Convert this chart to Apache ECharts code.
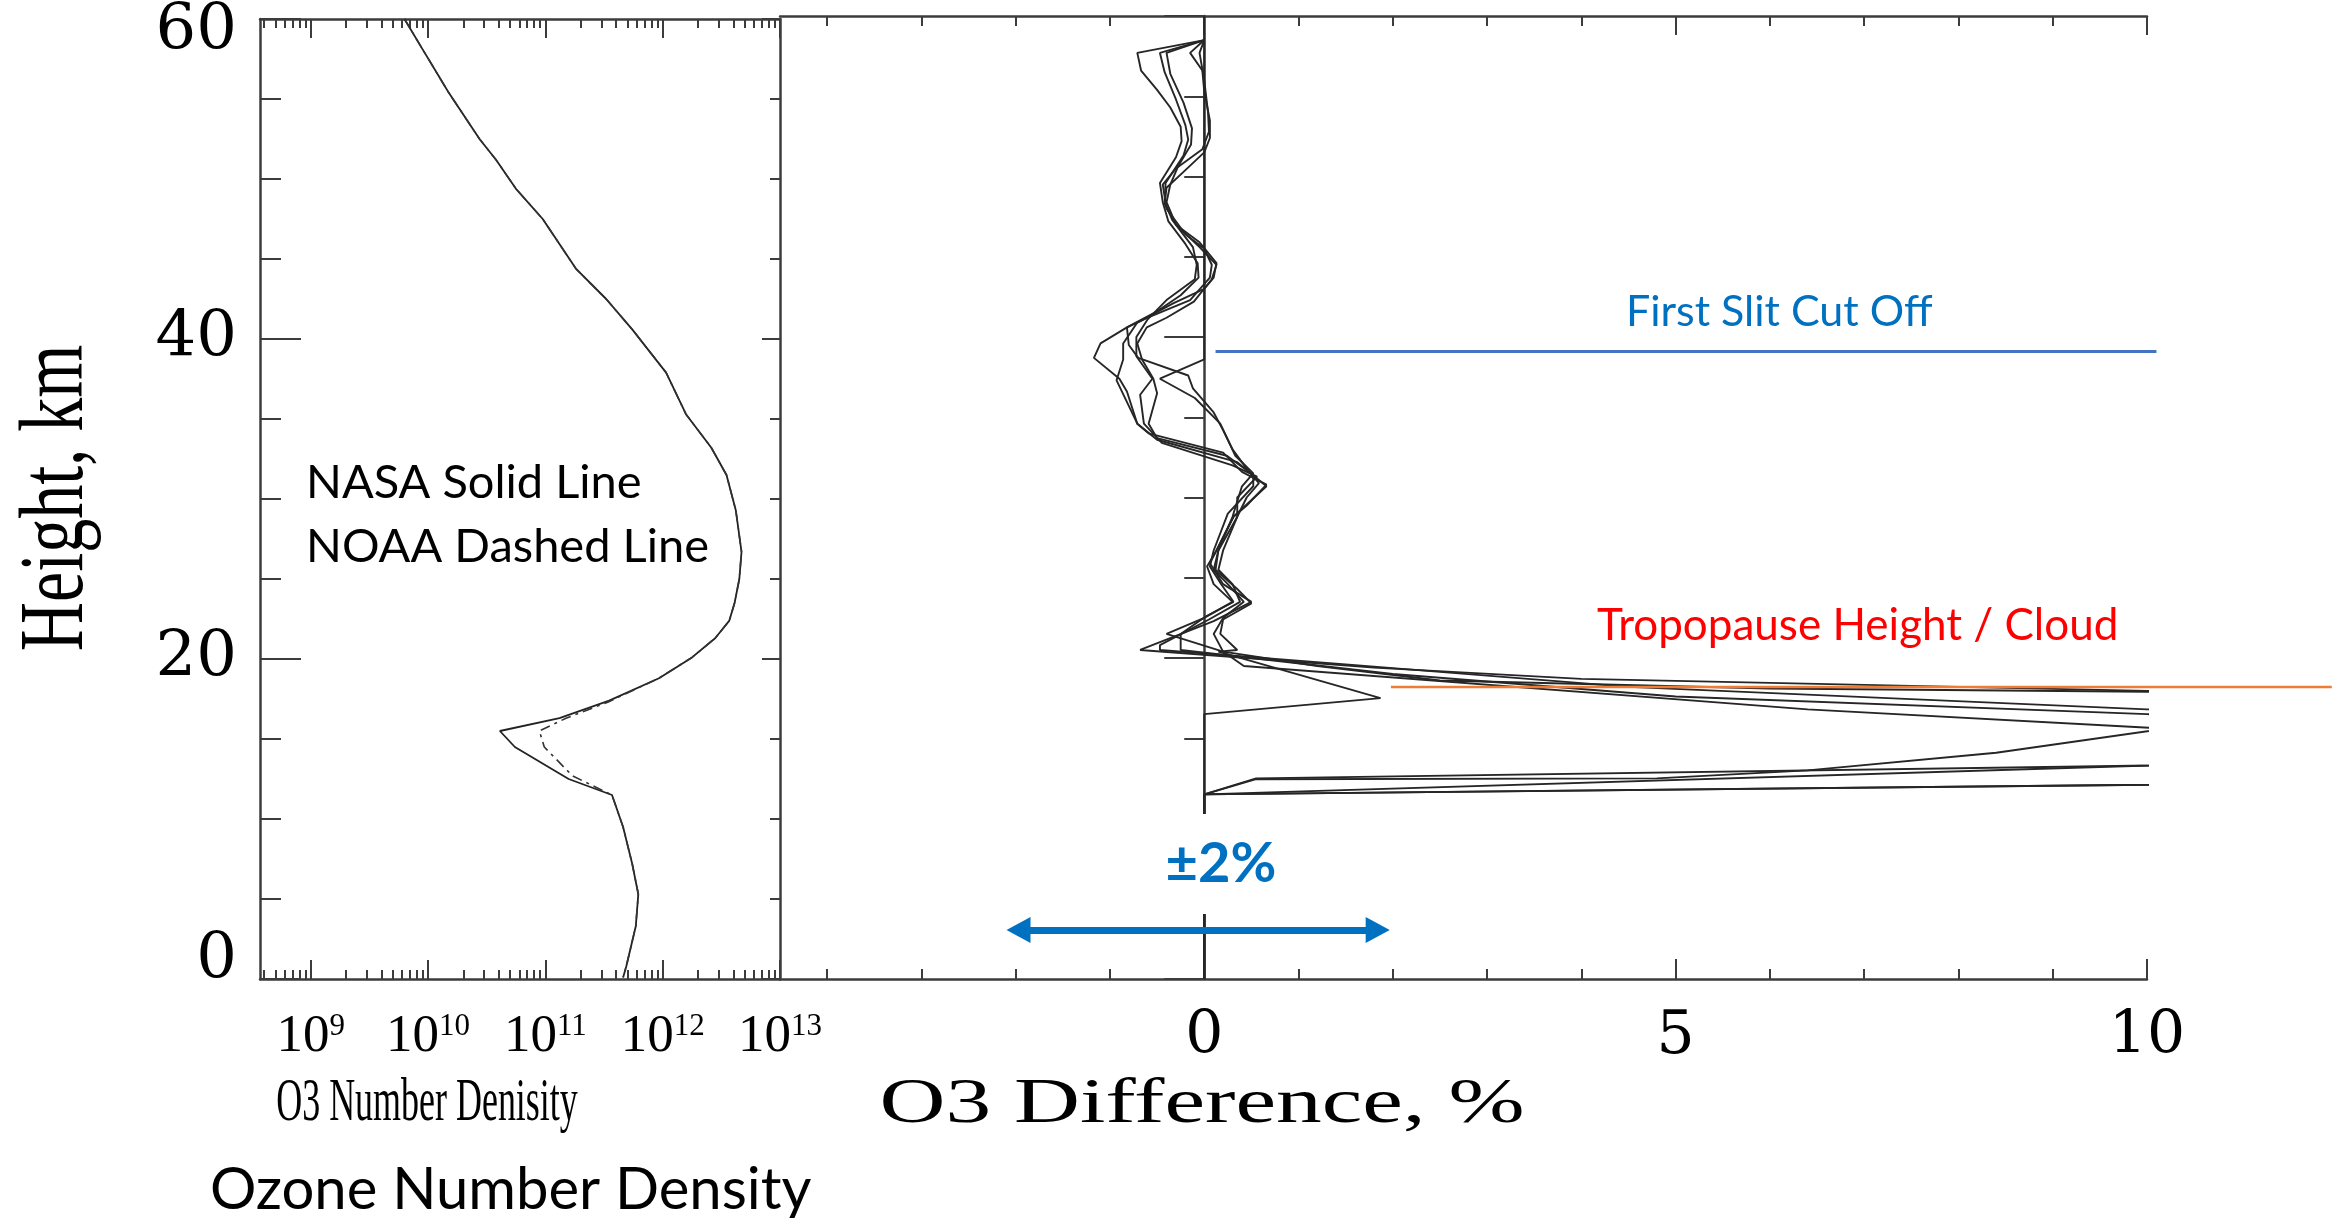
<!DOCTYPE html>
<html><head><meta charset="utf-8">
<script src="https://cdn.jsdelivr.net/npm/echarts@6/dist/echarts.min.js"></script>
<style>html,body{margin:0;padding:0;background:#fff}#c{width:2349px;height:1218px}</style>
</head><body><div id="c"></div>
<script>
// ---------- data ----------
const heightTicks = [0, 20, 40, 60];
const densityTickLabels = [1e9, 1e10, 1e11, 1e12, 1e13];
const diffTickLabels = [0, 5, 10];
const diffMinorTicks = [-4, -3, -2, -1, 1, 2, 3, 4, 6, 7, 8, 9];

// ozone number density [value, height km]
const nasaDensity = [[6.3e9,60.0],[9.0e9,58.1],[1.29e10,56.2],[1.5e10,55.4],[2.75e10,52.5],[3.8e10,51.2],[5.6e10,49.4],[9.5e10,47.5],[1.82e11,44.4],[3.3e11,42.5],[5.5e11,40.6],[1.07e12,37.9],[1.58e12,35.3],[2.6e12,33.2],[3.5e12,31.5],[4.2e12,29.3],[4.7e12,26.7],[4.5e12,25.0],[4.1e12,23.5],[3.7e12,22.4],[2.8e12,21.3],[1.78e12,20.1],[9.3e11,18.8],[3.5e11,17.4],[1.32e11,16.3],[4.1e10,15.5],[5.5e10,14.5],[1.58e11,12.5],[3.7e11,11.5],[4.6e11,9.5],[5.5e11,7.2],[6.2e11,5.3],[5.9e11,3.3],[4.9e11,0.8],[4.6e11,0.1]];
const noaaDensity = [[6.3e9,60.0],[9.0e9,58.1],[1.29e10,56.2],[1.5e10,55.4],[2.75e10,52.5],[3.8e10,51.2],[5.6e10,49.4],[9.5e10,47.5],[1.82e11,44.4],[3.3e11,42.5],[5.5e11,40.6],[1.07e12,37.9],[1.58e12,35.3],[2.6e12,33.2],[3.5e12,31.5],[4.2e12,29.3],[4.7e12,26.7],[4.5e12,25.0],[4.1e12,23.5],[3.7e12,22.4],[2.8e12,21.3],[1.78e12,20.1],[9.3e11,18.8],[3.4e11,17.3],[1.5e11,16.3],[8.9e10,15.5],[9.8e10,14.5],[1.7e11,12.7],[3.7e11,11.5],[4.6e11,9.5],[5.5e11,7.2],[6.2e11,5.3],[5.9e11,3.3],[4.9e11,0.8],[4.6e11,0.1]];

// O3 difference, % [value, height km]
const diffA = [[0,60],[0,38.6],[-0.47,37.4],[-0.1,36.2],[0.17,34.6],[0.33,32.6],[0.52,31.5],[0.4,30.7],[0.3,28.8],[0.15,26.7],[0.1,25.5],[0.25,24.6],[0.42,23.5],[0.2,22.5],[0.1,21.5],[0.2,20.4],[1.2,19.5],[2.5,18.6],[6,18.1],[10,17.9],[14,17.7],[14,14.02],[0,11.5],[0,0]];
const diffB = [[0,58.5],[-0.71,57.7],[-0.67,56.6],[-0.5,55.4],[-0.36,54.3],[-0.25,53.1],[-0.24,52.2],[-0.3,51.2],[-0.47,49.6],[-0.44,48.4],[-0.38,47.2],[-0.2,45.8],[-0.07,44.6],[-0.06,43.7],[-0.25,42.6],[-0.5,41.6],[-0.82,40.6],[-1.1,39.6],[-1.17,38.7],[-0.9,37.4],[-0.82,36.6],[-0.71,34.6],[-0.5,33.6],[0.35,32.2],[0.66,30.7],[0.31,28.8],[0.06,25.9],[0.2,24.6],[0.5,23.5],[0.1,22.3],[-0.68,20.5],[1.8,19.4],[4,18.7],[10,17.95],[14,17.6],[14,12.34],[0,11.5],[0,0]];
const diffC = [[0,58.5],[-0.47,57.7],[-0.42,56.5],[-0.3,54.8],[-0.2,53.2],[-0.17,52.3],[-0.22,51.3],[-0.41,49.6],[-0.42,48.4],[-0.34,47.3],[-0.12,45.6],[-0.08,44.5],[-0.1,43.6],[-0.4,42.3],[-0.6,41.1],[-0.72,40.0],[-0.72,38.8],[-0.55,37.4],[-0.68,36.4],[-0.64,34.6],[-0.45,33.4],[0.3,32.0],[0.56,31.3],[0.35,30.0],[0.35,28.8],[0.2,26.7],[0.15,25.5],[0.3,24.6],[0.38,23.5],[0.05,22.4],[-0.47,20.8],[-0.47,20.5],[1.5,19.6],[4.5,18.2],[10,16.8],[14,16.3],[14,13.64],[0.55,12.5],[0,11.5],[0,0]];
const diffD = [[0,58.5],[-0.4,57.7],[-0.36,56.4],[-0.22,54.6],[-0.13,53.0],[-0.14,52.0],[-0.28,50.6],[-0.36,49.5],[-0.4,48.4],[-0.3,47.0],[-0.05,45.6],[0.13,44.5],[0.08,43.6],[-0.11,42.2],[-0.4,41.2],[-0.61,40.6],[-0.71,39.6],[-0.66,38.6],[-0.54,37.4],[-0.5,36.5],[-0.59,34.6],[-0.5,33.7],[0.24,32.6],[0.52,31.4],[0.52,30.7],[0.25,29.0],[0.1,26.7],[0.06,25.7],[0.18,24.6],[0.31,23.5],[0.02,22.6],[-0.25,21.5],[-0.25,20.5],[2,19.0],[5,17.6],[10,16.5],[14,16.0],[14,12.34],[0,11.5],[0,0]];
const diffE = [[0,58.5],[-0.15,57.7],[-0.02,56.6],[0.0,55.3],[0.06,53.5],[0.06,52.4],[0.0,51.5],[-0.2,50.4],[-0.4,49.3],[-0.42,48.3],[-0.3,47.0],[-0.05,45.9],[0.13,44.6],[0.1,43.7],[0.0,43.0],[-0.33,42.1],[-0.71,40.9],[-0.86,39.6],[-0.86,38.6],[-0.93,37.3],[-0.71,34.6],[-0.59,34.0],[0.2,32.8],[0.4,31.6],[0.66,30.8],[0.45,29.5],[0.31,28.8],[0.13,26.7],[0.03,25.7],[0.1,24.6],[0.3,23.5],[0.0,22.5],[-0.4,21.5],[0.2,20.4],[0.42,19.5],[6.4,16.8],[10.2,15.6],[8.4,14.1],[6.4,13.0],[4.8,12.5],[0.55,12.45],[0,11.5],[0,0]];
const diffF = [[0,58.5],[-0.05,57.7],[0.0,56.0],[0.04,54.0],[0.05,52.8],[-0.02,51.7],[-0.3,50.5],[-0.44,49.5],[-0.4,48.0],[-0.2,46.4],[0.0,45.5],[0.08,44.5],[0.06,43.7],[-0.15,42.3],[-0.6,41.2],[-0.82,40.6],[-0.8,39.5],[-0.7,38.7],[-0.17,37.6],[-0.12,36.8],[0.1,35.3],[0.2,34.2],[0.3,33.0],[0.45,31.8],[0.58,30.9],[0.45,30.0],[0.35,28.8],[0.15,26.7],[0.12,25.5],[0.35,24.3],[0.5,23.4],[0.2,22.4],[0.17,21.5],[0.35,20.5],[0.15,20.4],[1.87,17.5],[0,16.5],[0,0]];
const diffSeries = [diffA, diffB, diffC, diffD, diffE, diffF];

// annotations (in data coordinates of the right panel)
const slitCutOff = [[0.12, 39.1], [10.1, 39.1]];
const tropopause = [[1.98, 18.2], [11.96, 18.2]];
const plusMinus2 = [[-1.97, 3.05], [1.84, 3.05]];

// ---------- chart ----------
const densityMinorTicks = [];
for (let e = 8; e <= 12; e++) for (let m = 2; m <= 9; m++) {
  const v = m * Math.pow(10, e);
  if (v >= 3.7e8 && v < 1e13) densityMinorTicks.push(v);
}
const AX = '#3c3c3c';
const frame = {show: true, lineStyle: {color: AX, width: 2.5}};
const noLine = {show: false};
const tk = (len, vals) => ({show: true, inside: true, length: len, customValues: vals, lineStyle: {color: AX, width: 2}});
const dMin = 3.7e8, dMax = 1e13, pMin = -4.5, pMax = 10;

function logAx(pos, line, tick, label) {
  return {type: 'log', logBase: 10, gridIndex: 0, position: pos, min: dMin, max: dMax,
    axisLine: line, axisTick: tick, splitLine: {show: false}, minorTick: {show: false},
    axisLabel: label || {show: false}};
}
function pAx(pos, line, tick, label) {
  return {type: 'value', gridIndex: 1, position: pos, min: pMin, max: pMax,
    axisLine: line, axisTick: tick, splitLine: {show: false},
    axisLabel: label || {show: false}};
}
const T = (o) => Object.assign({type: 'text', z: 100}, o);
const st = (o) => Object.assign({fill: '#000', align: 'left', verticalAlign: 'middle', textAlign: 'left', textVerticalAlign: 'middle'}, o);

const texts = [
  T({x: 58, y: 498, rotation: Math.PI / 2, scaleX: 0.74,
     style: st({text: 'Height, km', fontFamily: 'Liberation Serif', fontSize: 92, align: 'center', textAlign: 'center'})}),
  T({x: 427, y: 1104, scaleX: 0.58,
     style: st({text: 'O3 Number Denisity', fontFamily: 'Liberation Serif', fontSize: 62, align: 'center', textAlign: 'center'})}),
  T({x: 1202, y: 1105, scaleX: 1.45,
     style: st({text: 'O3 Difference, %', fontFamily: 'Liberation Serif', fontSize: 63, align: 'center', textAlign: 'center'})}),
  T({x: 1626, y: 312, style: st({text: 'First Slit Cut Off', fontFamily: 'Lato', fontSize: 43, fill: '#0070C0'})}),
  T({x: 1597, y: 626, style: st({text: 'Tropopause Height / Cloud', fontFamily: 'Lato', fontSize: 44, fill: '#FF0000'})}),
  T({x: 306, y: 483, style: st({text: 'NASA Solid Line', fontFamily: 'Lato', fontSize: 47})}),
  T({x: 306, y: 547, style: st({text: 'NOAA Dashed Line', fontFamily: 'Lato', fontSize: 47})}),
  T({x: 210, y: 1190, style: st({text: 'Ozone Number Density', fontFamily: 'Lato', fontSize: 58})}),
  T({x: 1221, y: 864, style: st({text: '±2%', fontFamily: 'Lato', fontWeight: 'bold', fontSize: 56, fill: '#0070C0',
     backgroundColor: '#fff', padding: [22, 16, 22, 16], align: 'center', textAlign: 'center'})})
];

const yFont = {fontFamily: 'DejaVu Serif', fontSize: 64, color: '#000'};

const option = {
  animation: false,
  backgroundColor: '#fff',
  grid: [
    {left: 260, top: 16, width: 520, height: 963},
    {left: 780, top: 16, width: 1367, height: 963}
  ],
  xAxis: [
    logAx('bottom', frame, tk(19, densityTickLabels), {
      show: true, customValues: densityTickLabels, margin: 32, color: '#000',
      formatter: v => '{b|10}{s|' + Math.round(Math.log10(v)) + '}',
      rich: {
        b: {fontFamily: 'Liberation Serif', fontSize: 53, color: '#000', verticalAlign: 'bottom'},
        s: {fontFamily: 'Liberation Serif', fontSize: 31, color: '#000', verticalAlign: 'bottom', padding: [0, 0, 22, 0]}
      }
    }),
    logAx('bottom', noLine, tk(9, densityMinorTicks)),
    logAx('top', frame, tk(19, densityTickLabels)),
    logAx('top', noLine, tk(9, densityMinorTicks)),
    pAx('bottom', frame, tk(20, diffTickLabels), {
      show: true, customValues: diffTickLabels, margin: 28, color: '#000',
      fontFamily: 'DejaVu Serif', fontSize: 60
    }),
    pAx('bottom', noLine, tk(10, diffMinorTicks)),
    pAx('top', frame, tk(19, diffTickLabels)),
    pAx('top', noLine, tk(10, diffMinorTicks))
  ],
  yAxis: [
    {type: 'value', gridIndex: 0, position: 'left', min: 0, max: 60, interval: 20,
     axisLine: frame, axisTick: {show: true, inside: true, length: 41, lineStyle: {color: AX, width: 2}},
     minorTick: {show: true, splitNumber: 4, length: 21, lineStyle: {color: AX, width: 2}},
     splitLine: {show: false}, minorSplitLine: {show: false},
     axisLabel: {show: true, margin: 23, color: '#000', fontFamily: 'DejaVu Serif', fontSize: 64,
       customValues: heightTicks,
       formatter: v => v === 60 ? '{t|60}' : (v === 0 ? '{z|0}' : '{n|' + v + '}'),
       rich: {
         t: Object.assign({padding: [26, 0, 0, 0]}, yFont),
         z: Object.assign({padding: [0, 0, 36, 0]}, yFont),
         n: Object.assign({}, yFont)
       }}},
    {type: 'value', gridIndex: 0, position: 'right', min: 0, max: 60, interval: 20,
     axisLine: frame, axisTick: {show: true, inside: true, length: 18, lineStyle: {color: AX, width: 2}},
     minorTick: {show: true, splitNumber: 4, length: 10, lineStyle: {color: AX, width: 2}},
     splitLine: {show: false}, axisLabel: {show: false}},
    {type: 'value', gridIndex: 1, position: 'right', min: 0, max: 60, interval: 20,
     axisLine: frame, axisTick: {show: true, inside: true, length: 40, lineStyle: {color: AX, width: 2}},
     minorTick: {show: true, splitNumber: 4, length: 20, lineStyle: {color: AX, width: 2}},
     splitLine: {show: false}, axisLabel: {show: false}}
  ],
  series: [
    {type: 'line', name: 'NASA', xAxisIndex: 0, yAxisIndex: 0, data: nasaDensity, showSymbol: false, symbol: 'none',
     lineStyle: {color: '#222', width: 1.8}, silent: true, z: 3},
    {type: 'line', name: 'NOAA', xAxisIndex: 0, yAxisIndex: 0, data: noaaDensity, showSymbol: false, symbol: 'none',
     lineStyle: {color: '#333', width: 1.6, type: [10, 5, 3, 5]}, silent: true, z: 3},
    ...diffSeries.map((d, i) => ({type: 'line', name: 'diff' + i, xAxisIndex: 4, yAxisIndex: 2, data: d,
      showSymbol: false, symbol: 'none', clip: true, lineStyle: {color: '#262626', width: 1.9}, silent: true, z: 3})),
    {type: 'line', name: 'arrow', xAxisIndex: 4, yAxisIndex: 2, data: [], symbol: 'none', silent: true, z: 4,
     markLine: {silent: true, symbol: ['triangle', 'triangle'], symbolSize: [26, 24], label: {show: false},
       lineStyle: {color: '#0070C0', width: 7, type: 'solid'}, emphasis: {disabled: true},
       data: [[{coord: plusMinus2[0]}, {coord: plusMinus2[1]}]]}}
  ],
  graphic: {elements: texts}
};
const chart = echarts.init(document.getElementById('c'), null, {renderer: 'canvas'});
chart.setOption(option);

// annotation lines placed through the right panel's own axes (not clipped to the frame)
const px = p => chart.convertToPixel({xAxisIndex: 4, yAxisIndex: 2}, p);
function segLine(pts, color, width) {
  const a = px(pts[0]), b = px(pts[1]);
  return {type: 'line', z: 90, shape: {x1: a[0], y1: a[1], x2: b[0], y2: b[1]}, style: {stroke: color, lineWidth: width}};
}
chart.setOption({graphic: {elements: texts.concat([
  segLine(slitCutOff, '#4472C4', 3),
  segLine(tropopause, '#ED7D31', 2.5)
])}});
</script></body></html>
